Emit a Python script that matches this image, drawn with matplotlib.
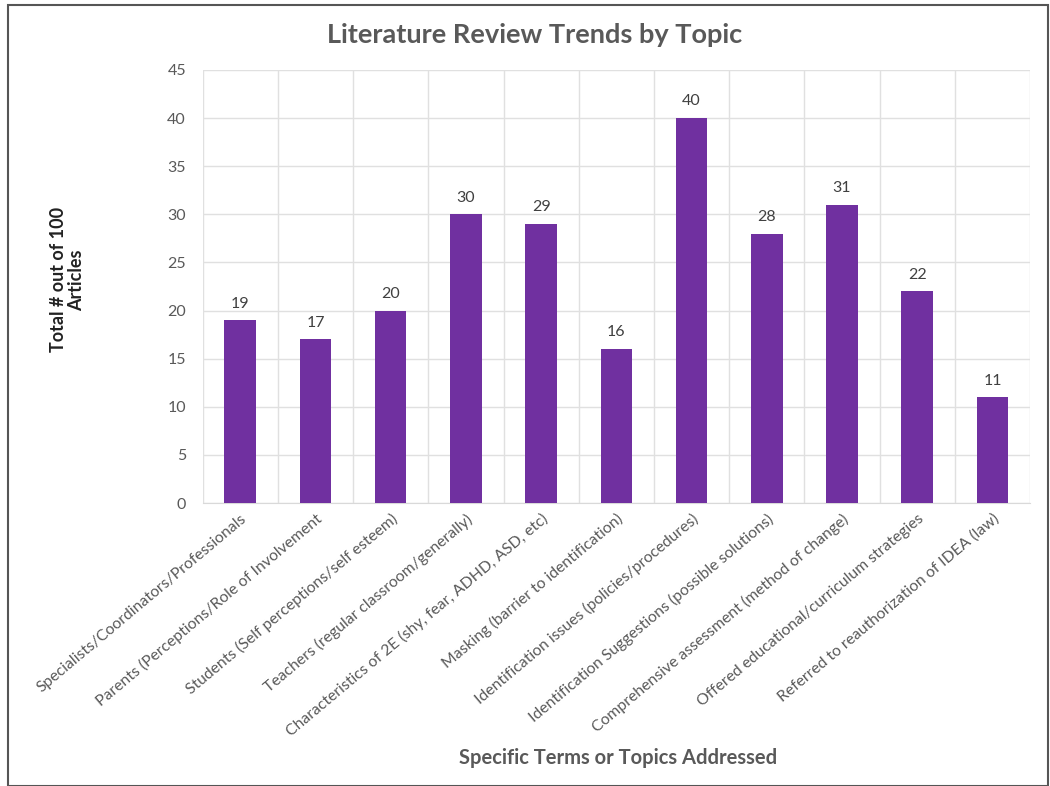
import matplotlib
matplotlib.use("Agg")
import matplotlib.pyplot as plt
from matplotlib.patches import Rectangle

# -------- DATA --------
topics = [
    "Specialists/Coordinators/Professionals",
    "Parents (Perceptions/Role of Involvement",
    "Students (Self perceptions/self esteem)",
    "Teachers (regular classroom/generally)",
    "Characteristics of 2E (shy, fear, ADHD, ASD, etc)",
    "Masking (barrier to identification)",
    "Identification issues (policies/procedures)",
    "Identification Suggestions (possible solutions)",
    "Comprehensive assessment (method of change)",
    "Offered educational/curriculum strategies",
    "Referred to reauthorization of IDEA (law)",
]
counts = [19, 17, 20, 30, 29, 16, 40, 28, 31, 22, 11]
yticks = list(range(0, 50, 5))

plt.rcParams["font.family"] = ["Lato", "DejaVu Sans"]

fig = plt.figure(figsize=(10.5, 7.86), dpi=100)
fig.patches.append(Rectangle((0.008, 0.0), 0.99, 0.994, transform=fig.transFigure,
                             fill=False, edgecolor="#555555", linewidth=1.5))

ax = fig.add_axes([0.193, 0.360, 0.788, 0.551])
x = list(range(len(topics)))
bars = ax.bar(x, counts, width=0.42, color="#7030A0", zorder=3)

for xi, v in zip(x, counts):
    ax.text(xi, v + 1.0, str(v), ha="center", va="bottom", fontsize=11.5, color="#404040")

ax.set_xlim(-0.5, len(topics) - 0.5)
ax.set_ylim(0, 45)
ax.set_yticks(yticks)
ax.set_yticklabels([str(t) for t in yticks], fontsize=11.5, color="#595959")
ax.set_xticks(x)
ax.set_xticklabels(topics, rotation=40, ha="right", rotation_mode="anchor",
                   fontsize=11.3, color="#595959")
ax.set_xticks([i - 0.5 for i in range(len(topics) + 1)], minor=True)
ax.grid(axis="y", color="#e0e0e0", linewidth=1, zorder=0)
ax.grid(axis="x", which="minor", color="#e0e0e0", linewidth=1, zorder=0)
ax.tick_params(axis="both", which="both", length=0)
ax.tick_params(axis="y", pad=12)
ax.tick_params(axis="x", pad=6)
for s in ["top", "right", "left"]:
    ax.spines[s].set_visible(False)
ax.spines["bottom"].set_color("#d9d9d9")

fig.text(0.509, 0.955, "Literature Review Trends by Topic", ha="center", va="center",
         fontsize=19.5, fontweight="bold", color="#595959")
fig.text(0.064, 0.644, "Total # out of 100\nArticles", rotation=90, ha="center", va="center",
         fontsize=13, fontweight="bold", color="#222222", linespacing=1.1)
fig.text(0.589, 0.036, "Specific Terms or Topics Addressed", ha="center", va="center",
         fontsize=14.5, fontweight="bold", color="#595959")

plt.savefig("out.png", dpi=100)
